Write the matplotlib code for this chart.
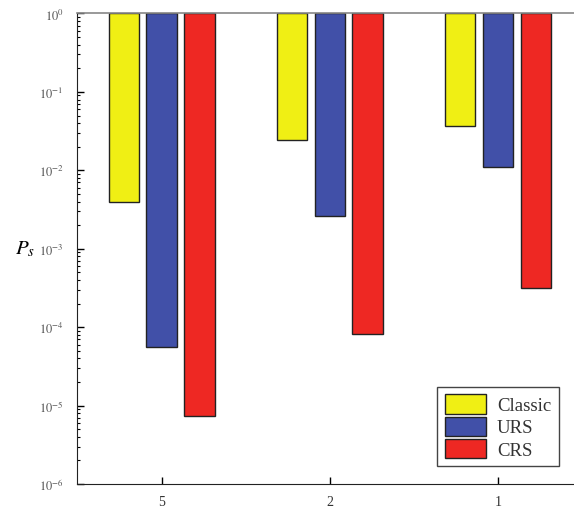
import matplotlib
matplotlib.use("Agg")
import matplotlib.pyplot as plt
import numpy as np

plt.rcParams['font.family'] = ['Liberation Serif', 'DejaVu Serif']
plt.rcParams['mathtext.fontset'] = 'stix'

groups = ["5", "2", "1"]
series = ["Classic", "URS", "CRS"]
classic = [3.9e-3, 2.45e-2, 3.7e-2]
urs = [5.6e-5, 2.6e-3, 1.1e-2]
crs = [7.4e-6, 8.3e-5, 3.2e-4]
colors = ["#f0ef14", "#4150a8", "#ee2823"]

fig = plt.figure(figsize=(5.74, 5.10), dpi=100)
ax = fig.add_axes([0.135, 0.049, 0.879, 0.9226])

x = np.arange(len(groups))
w = 0.18
off = 0.225
for i, (vals, name) in enumerate(zip([classic, urs, crs], series)):
  vals = np.array(vals)
  ax.bar(x + (i - 1) * off, 1 - vals, bottom=vals, width=w, color=colors[i],
         edgecolor='#222222', linewidth=1.0, label=name)

ax.set_yscale('log')
ax.set_ylim(1e-6, 1)
ax.set_xlim(-0.5, 2.5)
ax.set_xticks(x)
ax.set_xticklabels(groups, fontsize=10, color='#333333')
ax.set_yticks([10.0 ** k for k in range(-6, 1)])
ax.set_yticklabels(["$10^{%d}$" % k for k in range(-6, 1)], fontsize=9, color='#555555')

ax.tick_params(axis='both', which='both', direction='in')
ax.tick_params(axis='y', which='major', length=5, width=1, pad=10)
ax.tick_params(axis='y', which='minor', length=2.5, width=0.8)
ax.tick_params(axis='x', which='major', length=5, width=1, pad=8)

ax.spines['right'].set_visible(False)
ax.spines['top'].set_color('#888888')
ax.spines['top'].set_linewidth(1.2)
ax.spines['left'].set_color('#222222')
ax.spines['bottom'].set_color('#222222')

ax.set_ylabel("$P_s$", rotation=0, fontsize=15, labelpad=10, va='center')

leg = ax.legend(loc='lower right', bbox_to_anchor=(0.954, 0.038), fancybox=False,
                fontsize=13.5, handlelength=2.2, handleheight=1.2, handletextpad=0.6,
                labelspacing=0.12, borderpad=0.4, borderaxespad=0, framealpha=1)
leg.get_frame().set_edgecolor('#444444')
leg.get_frame().set_linewidth(1.0)
for t in leg.get_texts():
  t.set_color('#333333')

fig.savefig("out.png", dpi=100)
